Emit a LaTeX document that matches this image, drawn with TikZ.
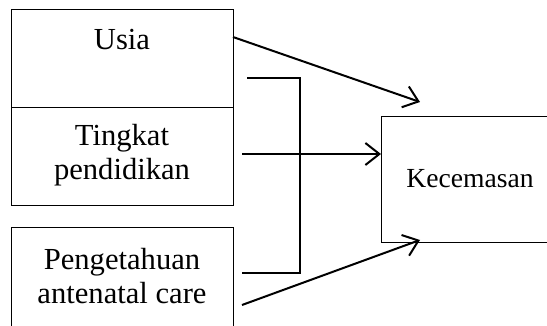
\documentclass[tikz,border=0pt]{standalone}
\usepackage{fontspec}
\setmainfont{Liberation Serif}
\usetikzlibrary{arrows.meta,calc}
\begin{document}
\begin{tikzpicture}[x=0.5pt,y=-0.5pt,
  box/.style={draw,line width=0.5pt,inner sep=0pt},
  lbl/.style={font=\fontsize{15.3}{17}\selectfont,align=center,inner sep=0pt},
  conn/.style={line width=1pt},
  arr/.style={conn,-{Straight Barb[length=7pt,width=11pt,line width=1pt]}}]
\useasboundingbox (0,0) rectangle (547,326);
\clip (0,0) rectangle (547,326);
\node[box,minimum width=111pt,minimum height=49pt,anchor=north west] (b1) at (11,9) {};
\node[lbl,anchor=base] (t1) at (122,50) {Usia};
\node[box,minimum width=111pt,minimum height=49pt,anchor=north west] (b2) at (11,107) {};
\node[lbl] (t2) at (122,155) {Tingkat\\pendidikan};
\node[box,minimum width=111pt,minimum height=70pt,anchor=north west] (b3) at (11,227) {};
\node[lbl] (t3) at (122,276) {Pengetahuan\\antenatal care};
\node[box,minimum width=83pt,minimum height=63pt,anchor=north west] (k) at (381,116) {};
\node[lbl,font=\fontsize{13.8}{16}\selectfont,anchor=base] (tk) at (470,188) {Kecemasan};
\coordinate (s1) at (233,37);
\coordinate (e1) at (420,102);
\coordinate (s2) at (242,154);
\coordinate (s3) at (242,305);
\coordinate (e3) at (420,240);
\coordinate (bt) at (247,78);
\coordinate (bv) at (300,78);
\coordinate (bb) at (242,273);
\draw[arr] (s1) -- (e1);
\draw[arr] (s2) -- (s2 -| k.west);
\draw[arr] (s3) -- (e3);
\draw[conn] (bt) -- (bv) -- (bv |- bb) -- (bb);
\end{tikzpicture}
\end{document}
